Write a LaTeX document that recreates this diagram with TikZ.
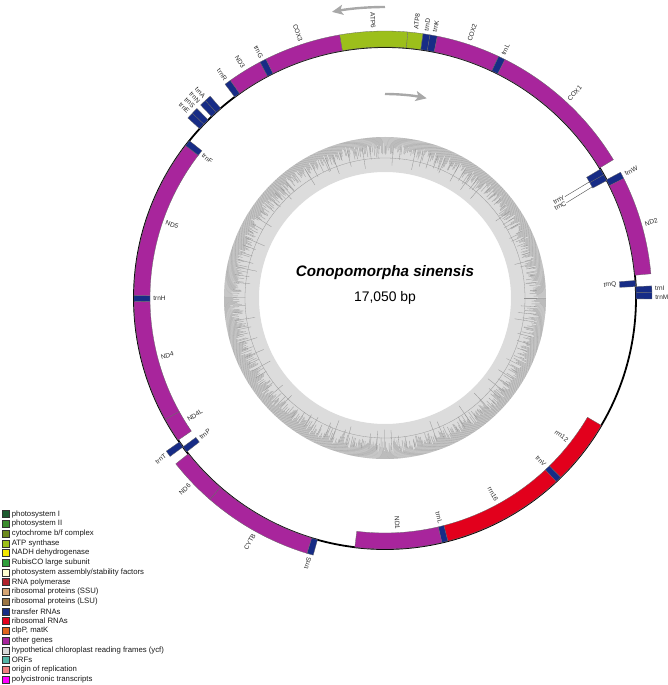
\documentclass[tikz,border=0pt]{standalone}
\usepackage{fontspec}
\setmainfont{Liberation Sans}
\usetikzlibrary{arrows.meta}
\definecolor{psI}{HTML}{1E5B30}
\definecolor{psII}{HTML}{3B8C2E}
\definecolor{cytbf}{HTML}{6D8A1E}
\definecolor{atps}{HTML}{9CBF1B}
\definecolor{nadh}{HTML}{F2E600}
\definecolor{rbc}{HTML}{2F9E3B}
\definecolor{psa}{HTML}{FFFFD0}
\definecolor{rpo}{HTML}{B0202A}
\definecolor{rps}{HTML}{D6A574}
\definecolor{rpl}{HTML}{9B7544}
\definecolor{trna}{HTML}{172C86}
\definecolor{rrna}{HTML}{E2001C}
\definecolor{clp}{HTML}{E0661C}
\definecolor{othg}{HTML}{A8259C}
\definecolor{ycf}{HTML}{D8D8D8}
\definecolor{orf}{HTML}{52B5A6}
\definecolor{ori}{HTML}{F08080}
\definecolor{poly}{HTML}{FF00FF}
\definecolor{gcring}{HTML}{DCDCDC}
\definecolor{gcbar}{HTML}{ABABAB}
\definecolor{arrgray}{HTML}{A8A8A8}
\tikzset{
  genebd/.style={draw=black!60, line width=0.3pt},
  glab/.style={font=\fontsize{6.5}{7}\selectfont, text=black!85, inner sep=0.6pt},
  leader/.style={draw=black!70, line width=0.4pt},
  dirarrow/.style={draw=arrgray, line width=2.4pt, -{Stealth[length=11pt, width=10pt, inset=2.5pt]}},
  legbox/.style={draw=black!80, line width=0.3pt, minimum size=7pt, inner sep=0pt},
  legtext/.style={font=\fontsize{7.75}{8}\selectfont, text=black!90, inner sep=0pt, anchor=west}
}
\newcommand\genebox[5]{\filldraw[genebd, fill=#5] (#1:#3) arc[start angle=#1, end angle=#2, radius=#3] -- (#2:#4) arc[start angle=#2, end angle=#1, radius=#4] -- cycle;}
\newcommand\ogene[3]{\genebox{#1}{#2}{251}{267}{#3}}
\newcommand\igene[3]{\genebox{#1}{#2}{235}{251}{#3}}
\newcommand\olabR[3]{\node[glab, anchor=west, rotate=#2] (#1) at (#2:269.5) {#3};}
\newcommand\olabL[3]{\node[glab, anchor=east, rotate=#2+180] (#1) at (#2:269.5) {#3};}
\newcommand\ilabR[3]{\node[glab, anchor=east, rotate=#2] (#1) at (#2:232.5) {#3};}
\newcommand\ilabL[3]{\node[glab, anchor=west, rotate=#2+180] (#1) at (#2:232.5) {#3};}
\begin{document}
\begin{tikzpicture}[x=1pt, y=1pt]
\useasboundingbox (-385,-387) rectangle (283,298);
% GC content ring
\fill[gcring, even odd rule] (0,0) circle[radius=161] (0,0) circle[radius=126];
\pgfmathsetseed{4242}
\foreach \a in {0,0.35,...,359.8}{
  \pgfmathsetmacro\rr{161-5-12*rnd-9*rnd*rnd}
  \draw[gcbar, line width=0.5pt] (\a:161) -- (\a:\rr);
}
\foreach \a in {0,2.9,...,359}{
  \pgfmathsetmacro\rr{148-18*rnd}
  \draw[gcbar!85!black, line width=0.3pt] (\a:152) -- (\a:\rr);
}
\draw[black!40, line width=0.3pt] (0,0) circle[radius=140];
% direction arrows
\draw[dirarrow] (90:291) arc[start angle=90, end angle=100.5, radius=291];
\draw[dirarrow] (90:204) arc[start angle=90, end angle=78.2, radius=204];
% main circle
\draw[black, line width=1.8pt] (0,0) circle[radius=251];
% outer genes
\ogene{85.1}{99.8}{atps}
\ogene{81.8}{85.1}{atps}
\ogene{80.3}{81.8}{trna}
\ogene{78.7}{80.3}{trna}
\ogene{64.8}{78.7}{othg}
\ogene{63.3}{64.8}{trna}
\ogene{31.2}{63.3}{othg}
\ogene{26.6}{28.1}{trna}
\ogene{5.2}{26.6}{othg}
\ogene{1.2}{2.6}{trna}
\ogene{-0.2}{1.2}{trna}
\ogene{-105.6}{-107.0}{trna}
\ogene{-107.0}{-131.0}{othg}
\ogene{-131.0}{-141.6}{othg}
\ogene{-143.6}{-145.0}{trna}
\ogene{130.9}{132.3}{trna}
\ogene{132.3}{133.7}{trna}
\ogene{134.8}{136.2}{trna}
\ogene{136.2}{137.6}{trna}
\ogene{125.4}{126.8}{trna}
\ogene{117.9}{125.4}{othg}
\ogene{116.5}{117.9}{trna}
\ogene{99.8}{116.5}{othg}
% inner genes
\igene{29.4}{30.9}{trna}
\igene{27.9}{29.4}{trna}
\igene{2.6}{4.0}{trna}
\igene{-30.5}{-45.6}{rrna}
\igene{-45.6}{-47.0}{trna}
\igene{-47.0}{-75.5}{rrna}
\igene{-75.5}{-76.9}{trna}
\igene{-76.9}{-96.9}{othg}
\igene{-142.2}{-143.6}{trna}
\igene{-145.5}{-151.1}{othg}
\igene{-151.1}{-179.2}{othg}
\igene{-179.2}{-180.6}{trna}
\igene{142.6}{179.4}{othg}
\igene{141.2}{142.6}{trna}
% outer labels
\olabL{lATPsix}{92.5}{ATP6}
\olabR{lATPeight}{83.4}{ATP8}
\olabR{ltrnD}{81.2}{trnD}
\olabR{ltrnK}{79.4}{trnK}
\olabR{lCOXtwo}{71.8}{COX2}
\olabR{ltrnLtwo}{64.1}{trnL}
\olabR{lCOXone}{47.2}{COX1}
\olabR{ltrnW}{27.3}{trnW}
\olabR{lNDtwo}{15.9}{ND2}
\olabR{ltrnI}{2.1}{trnI}
\olabR{ltrnM}{0.2}{trnM}
\olabL{ltrnStwo}{-106.3}{trnS}
\olabL{lCYTB}{-119.0}{CYTB}
\olabL{lNDsix}{-136.3}{ND6}
\olabL{ltrnT}{-144.3}{trnT}
\olabL{ltrnA}{132.0}{trnA}
\olabL{ltrnN}{133.5}{trnN}
\olabL{ltrnSone}{135.0}{trnS}
\olabL{ltrnE}{136.6}{trnE}
\olabL{ltrnR}{126.1}{trnR}
\olabL{lNDthree}{121.6}{ND3}
\olabL{ltrnG}{117.2}{trnG}
\olabL{lCOXthree}{108.2}{COX3}
% inner labels
\ilabR{ltrnQ}{3.3}{trnQ}
\ilabR{lrrntwelve}{-38.0}{rrn12}
\ilabR{ltrnV}{-46.3}{trnV}
\ilabR{lrrnsixteen}{-61.2}{rrn16}
\ilabR{ltrnLone}{-76.2}{trnL}
\ilabR{lNDone}{-86.9}{ND1}
\ilabL{ltrnP}{-142.9}{trnP}
\ilabL{lNDfourL}{-148.3}{ND4L}
\ilabL{lNDfour}{-165.2}{ND4}
\ilabL{ltrnH}{-179.9}{trnH}
\ilabL{lNDfive}{161.0}{ND5}
\ilabL{ltrnF}{141.9}{trnF}
% trnY / trnC with leaders
\node[glab, anchor=east, rotate=29.0] (ltrnY) at (29.4:206.5) {trnY};
\node[glab, anchor=east, rotate=27.5] (ltrnC) at (27.7:205) {trnC};
\coordinate (eY) at (29.6:235);
\coordinate (eC) at (28.2:235);
\draw[leader] (eY) -- (ltrnY.east);
\draw[leader] (eC) -- (ltrnC.east);
% title
\node[font=\fontsize{15.2}{18}\selectfont\bfseries\itshape, anchor=base, inner sep=0pt] (title) at (0,21.3) {Conopomorpha sinensis};
\node[font=\fontsize{13.9}{16}\selectfont, anchor=base, inner sep=0pt] (size) at (0,-3.7) {17,050 bp};
% legend
\foreach \c/\t [count=\k] in {psI/{photosystem I}, psII/{photosystem II}, cytbf/{cytochrome b/f complex}, atps/{ATP synthase}, nadh/{NADH dehydrogenase}, rbc/{RubisCO large subunit}, psa/{photosystem assembly/stability factors}, rpo/{RNA polymerase}, rps/{ribosomal proteins (SSU)}, rpl/{ribosomal proteins (LSU)}, trna/{transfer RNAs}, rrna/{ribosomal RNAs}, clp/{clpP, matK}, othg/{other genes}, ycf/{hypothetical chloroplast reading frames (ycf)}, orf/{ORFs}, ori/{origin of replication}, poly/{polycistronic transcripts}}{
  \pgfmathsetmacro\yy{-216-9.73*(\k-1)}
  \node[legbox, fill=\c] (legbox\k) at (-379.7,\yy) {};
  \node[legtext] (legtxt\k) at (-373.3,\yy) {\t};
}
\end{tikzpicture}
\end{document}
